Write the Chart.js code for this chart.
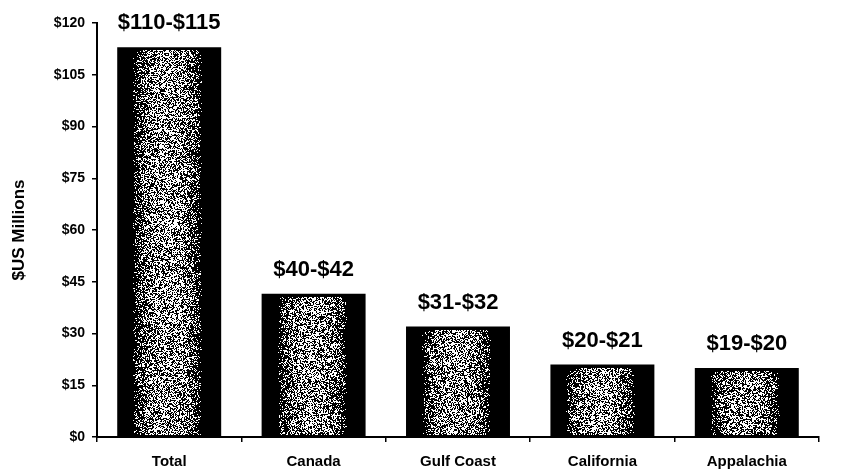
<!DOCTYPE html>
<html>
<head>
<meta charset="utf-8">
<script src="https://cdn.jsdelivr.net/npm/chart.js@4/dist/chart.umd.min.js"></script>
<style>
  html, body { margin: 0; padding: 0; background: #fff; }
  #wrap { width: 845px; height: 473px; }
</style>
</head>
<body>
<div id="wrap"><canvas id="chart" width="845" height="473"></canvas></div>
<script>
// regions and estimated cost ranges ($US millions)
const regions = ['Total', 'Canada', 'Gulf Coast', 'California', 'Appalachia'];
const lowValues = [110, 40, 31, 20, 19];
const highValues = [115, 42, 32, 21, 20];
const barValues = [113, 41.5, 32, 21, 20];
const yTicks = [0, 15, 30, 45, 60, 75, 90, 105, 120];

const rangeLabels = lowValues.map((lo, i) => '$' + lo + '-$' + highValues[i]);
const FONT = '"Liberation Sans", Arial, sans-serif';

// cheap deterministic hash for the speckled fill
function hash(x, y) {
  const s = Math.sin(x * 12.9898 + y * 78.233) * 43758.5453;
  return s - Math.floor(s);
}

// black bars with a grainy light core, drawn over each bar element
const speckle = {
  id: 'speckle',
  afterDatasetsDraw(chart) {
    const ctx = chart.ctx;
    chart.getDatasetMeta(0).data.forEach(bar => {
      const w = Math.round(bar.width);
      const left = Math.round(bar.x - w / 2);
      const top = Math.round(bar.y) + 3;
      const h = Math.round(bar.base) - top - 1;
      if (h <= 0) return;
      const off = document.createElement('canvas');
      off.width = w; off.height = h;
      const octx = off.getContext('2d');
      const img = octx.createImageData(w, h);
      for (let py = 0; py < h; py++) {
        for (let px = 0; px < w; px++) {
          const dx = (px - w * 0.48) / (w * 0.33);
          let p = Math.max(0, 1 - dx * dx);
          p = Math.pow(p, 0.6) * 0.55;
          const idx = (py * w + px) * 4;
          const on = hash(px + left, py + top) < p;
          const v = on ? 255 : 0;
          img.data[idx] = v; img.data[idx + 1] = v; img.data[idx + 2] = v;
          img.data[idx + 3] = on ? 255 : 0;
        }
      }
      octx.putImageData(img, 0, 0);
      ctx.drawImage(off, left, top);
    });
  }
};

// range labels above each bar
const rangeText = {
  id: 'rangeText',
  afterDatasetsDraw(chart) {
    const ctx = chart.ctx;
    ctx.save();
    ctx.font = 'bold 22px ' + FONT;
    ctx.fillStyle = '#000';
    ctx.textAlign = 'center';
    ctx.textBaseline = 'bottom';
    chart.getDatasetMeta(0).data.forEach((bar, i) => {
      ctx.fillText(rangeLabels[i], bar.x, bar.y - 13);
    });
    ctx.restore();
  }
};

new Chart(document.getElementById('chart'), {
  type: 'bar',
  data: {
    labels: regions,
    datasets: [{
      data: barValues,
      backgroundColor: '#000',
      borderWidth: 0,
      categoryPercentage: 1,
      barPercentage: 0.72
    }]
  },
  options: {
    responsive: false,
    animation: false,
    layout: { padding: { left: 8, top: 23, right: 26, bottom: 0 } },
    plugins: { legend: { display: false }, tooltip: { enabled: false } },
    scales: {
      x: {
        grid: { offset: true, drawOnChartArea: false, color: '#000', tickLength: 5, lineWidth: 1.5 },
        border: { color: '#000', width: 2 },
        ticks: { color: '#000', padding: 11, font: { family: FONT, size: 15, weight: 'bold' } },
        afterFit(scale) { scale.height = 36; }
      },
      y: {
        min: 0,
        max: 120,
        afterBuildTicks(scale) { scale.ticks = yTicks.map(v => ({ value: v })); },
        grid: { drawOnChartArea: false, color: '#000', tickLength: 5, lineWidth: 1.5 },
        border: { color: '#000', width: 2 },
        ticks: {
          color: '#000',
          padding: 7,
          font: { family: FONT, size: 14, weight: 'bold' },
          callback: v => '$' + v
        },
        title: {
          display: true,
          text: '$US Millions',
          color: '#000',
          padding: { top: 1, bottom: 0 },
          font: { family: FONT, size: 17, weight: 'bold' }
        },
        afterFit(scale) { scale.width = 89; }
      }
    }
  },
  plugins: [speckle, rangeText]
});
</script>
</body>
</html>
